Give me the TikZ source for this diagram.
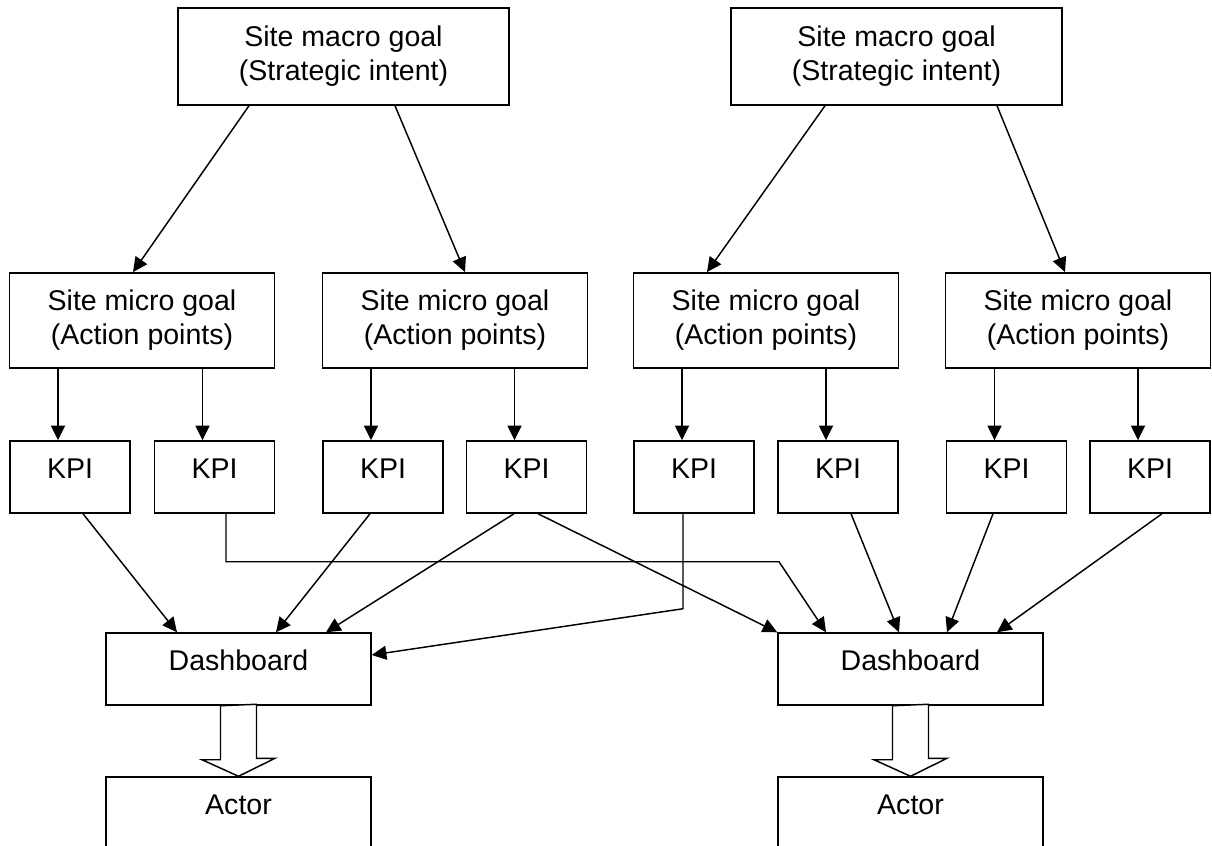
\documentclass[tikz,border=0pt]{standalone}
\usepackage{fontspec}
\setmainfont{Liberation Sans}
\usetikzlibrary{arrows.meta,calc,positioning}

\begin{document}
\begin{tikzpicture}[x=0.75pt,y=-0.75pt,line width=1.1pt,
    >={Triangle[length=11pt,width=10.5pt]},
    font=\fontsize{21.4pt}{25.5pt}\selectfont]
       \tikzstyle{box}=[draw,inner sep=0pt]
       \tikzstyle{goal}=[box,align=center,minimum height=71.5pt]
       \tikzstyle{single}=[box,text depth=12.75pt,minimum height=54pt]
       \tikzstyle{fat}=[fill=white,line join=miter]

       \useasboundingbox (0,0) rectangle (1212,845);
       \clip (0,0) rectangle (1212,845);

       \node[goal,minimum width=248pt,minimum height=72.75pt] (macro_1) at (343.5,56.5) {Site macro goal\\(Strategic intent)};
       \node[goal,minimum width=248pt,minimum height=72.75pt] (macro_2) at (896.5,56.5) {Site macro goal\\(Strategic intent)};

       \foreach \i/\x in {1/142,2/455,3/766,4/1078}
         \node[goal,minimum width=198.75pt] (micro_\i) at (\x,320.5) {Site micro goal\\(Action points)};

       \foreach \i/\x in {1/70,2/214.5,3/383,4/526.5,5/694,6/838,7/1006.5,8/1150}
         \node[single,minimum width=90pt] (kpi_\i) at (\x,477) {KPI};

       \node[single,minimum width=198.75pt] (dash_1) at (238.5,669) {Dashboard};
       \node[single,minimum width=198.75pt] (dash_2) at (910.5,669) {Dashboard};
       \node[single,minimum width=198.75pt] (actor_1) at (238.5,813) {Actor};
       \node[single,minimum width=198.75pt] (actor_2) at (910.5,813) {Actor};

       \draw[->] ($(macro_1.south)+(-94.5,0)$) -- ($(micro_1.north)+(-9,0)$);
       \draw[->] ($(macro_1.south)+(51.5,0)$) -- ($(micro_2.north)+(10,0)$);
       \draw[->] ($(macro_2.south)+(-71.5,0)$) -- ($(micro_3.north)+(-59,0)$);
       \draw[->] ($(macro_2.south)+(100.5,0)$) -- ($(micro_4.north)+(-13,0)$);

       \foreach \k/\m in {1/1,2/1,3/2,4/2,5/3,6/3,7/4,8/4}
         \draw[->] ([xshift=-9pt]kpi_\k.north |- micro_\m.south) -- ([xshift=-9pt]kpi_\k.north);

       \draw[->] ($(kpi_1.south)+(13,0)$) -- ($(dash_1.north)+(-61.5,0)$);
       \draw[->] ($(kpi_2.south)+(11.5,0)$) -- ++(0,48) -- ++(553,0) -- ($(dash_2.north)+(-84.5,0)$);
       \draw[->] ($(kpi_3.south)+(-13,0)$) -- ($(dash_1.north)+(37.5,0)$);
       \draw[->] ($(kpi_4.south)+(-12.5,0)$) -- ($(dash_1.north)+(87.5,0)$);
       \draw[->] ($(kpi_4.south)+(11.5,0)$) -- (dash_2.north west);
       \draw[->] ($(kpi_5.south)+(-11,0)$) -- ++(0,95) -- ([yshift=10.5pt]dash_1.east);
       \draw[->] ($(kpi_6.south)+(13,0)$) -- ($(dash_2.north)+(-11.5,0)$);
       \draw[->] ($(kpi_7.south)+(-13.5,0)$) -- ($(dash_2.north)+(36.5,0)$);
       \draw[->] ($(kpi_8.south)+(12,0)$) -- ($(dash_2.north)+(86.5,0)$);

       \draw[fat] (dash_1.south) ++(-18,0) -- ++(0,54) -- ++(-18.5,0) -- (actor_1.north)
         -- ++(36.5,-18) -- ++(-18.5,0) -- ++(0,-54) -- cycle;
       \draw[fat] (dash_2.south) ++(-18,0) -- ++(0,54) -- ++(-18.5,0) -- (actor_2.north)
         -- ++(36.5,-18) -- ++(-18.5,0) -- ++(0,-54) -- cycle;
\end{tikzpicture}
\end{document}
